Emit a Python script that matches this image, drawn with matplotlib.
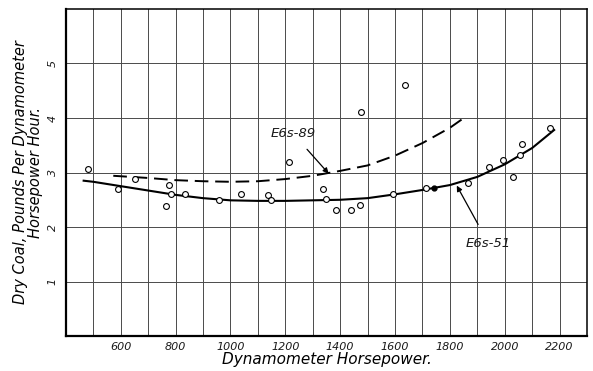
import numpy as np
import matplotlib
matplotlib.use("Agg")
import matplotlib.pyplot as plt

# test readings, dry coal per dynamometer hp-hour
hp_pts = [482, 590, 653, 777, 764, 783, 835, 958, 1039, 1138, 1148, 1213,
          1339, 1349, 1385, 1440, 1473, 1475, 1637, 1591, 1712, 1865, 1943,
          1995, 2030, 2057, 2061, 2165]
coal_pts = [3.07, 2.69, 2.89, 2.78, 2.38, 2.60, 2.60, 2.49, 2.60, 2.59, 2.50,
            3.19, 2.69, 2.51, 2.32, 2.31, 2.40, 4.11, 4.60, 2.61, 2.72, 2.80,
            3.10, 3.23, 2.91, 3.33, 3.52, 3.82]
hp_dot = [1741]
coal_dot = [2.71]

# faired curve, class E6s-51
hp_51 = [465, 500, 600, 700, 800, 900, 1000, 1100, 1200, 1300, 1400, 1500,
         1600, 1700, 1800, 1900, 2000, 2100, 2180]
coal_51 = [2.85, 2.83, 2.75, 2.67, 2.59, 2.53, 2.49, 2.48, 2.48, 2.49, 2.50,
           2.53, 2.60, 2.68, 2.77, 2.92, 3.15, 3.45, 3.78]

# faired curve, class E6s-89
hp_89 = [573, 700, 800, 900, 1000, 1100, 1200, 1300, 1400, 1500, 1600, 1700,
         1800, 1848]
coal_89 = [2.94, 2.90, 2.86, 2.84, 2.83, 2.84, 2.88, 2.94, 3.03, 3.13, 3.31,
           3.54, 3.82, 3.99]

xticks = [600, 800, 1000, 1200, 1400, 1600, 1800, 2000, 2200]
yticks = [1, 2, 3, 4, 5]

plt.rcParams['font.family'] = 'DejaVu Sans'
plt.rcParams['font.style'] = 'oblique'
plt.rcParams['text.color'] = '#1a1a1a'

fig = plt.figure(figsize=(5.93, 3.71), dpi=100)
ax = fig.add_axes([0.111, 0.094, 0.879, 0.882])

ax.set_xlim(400, 2300)
ax.set_ylim(0, 6)

# drafting grid: every 100 hp, every unit of coal
ax.set_xticks(np.arange(500, 2300, 100), minor=True)
ax.set_xticks(xticks)
ax.set_yticks(yticks)
ax.grid(True, which='both', color='#4a4a4a', lw=0.7)
ax.set_axisbelow(True)
ax.tick_params(which='both', length=0, labelcolor='#1a1a1a')
ax.tick_params(axis='x', pad=4, labelsize=8)
ax.tick_params(axis='y', pad=6, labelsize=8, labelrotation=90)
for lbl in ax.get_yticklabels():
    lbl.set_va('center')

for side in ['left', 'bottom']:
    ax.spines[side].set_linewidth(1.6)
for side in ['top', 'right']:
    ax.spines[side].set_linewidth(1.1)

ax.plot(hp_51, coal_51, color='black', lw=1.5)
ax.plot(hp_89, coal_89, color='black', lw=1.4, dashes=(7, 3.5))
ax.plot(hp_pts, coal_pts, 'o', mfc='white', mec='black', ms=4.2, mew=0.8)
ax.plot(hp_dot, coal_dot, 'o', color='black', ms=3.5)

ax.annotate('E6s-89', xy=(1358, 2.98), xytext=(1229, 3.71),
            ha='center', va='center', fontsize=9.5,
            arrowprops=dict(arrowstyle='-|>', color='black', lw=0.9,
                            mutation_scale=8, shrinkA=6, shrinkB=0))
ax.annotate('E6s-51', xy=(1825, 2.76), xytext=(1941, 1.70),
            ha='center', va='center', fontsize=9.5,
            arrowprops=dict(arrowstyle='-|>', color='black', lw=0.9,
                            mutation_scale=8, shrinkA=8, shrinkB=0))

ax.set_xlabel('Dynamometer Horsepower.', fontsize=11, labelpad=0)
ax.set_ylabel('Dry Coal, Pounds Per Dynamometer\nHorsepower Hour.',
              fontsize=10.5, labelpad=3, linespacing=1.0)

fig.savefig('out.png', dpi=100, facecolor='white')
